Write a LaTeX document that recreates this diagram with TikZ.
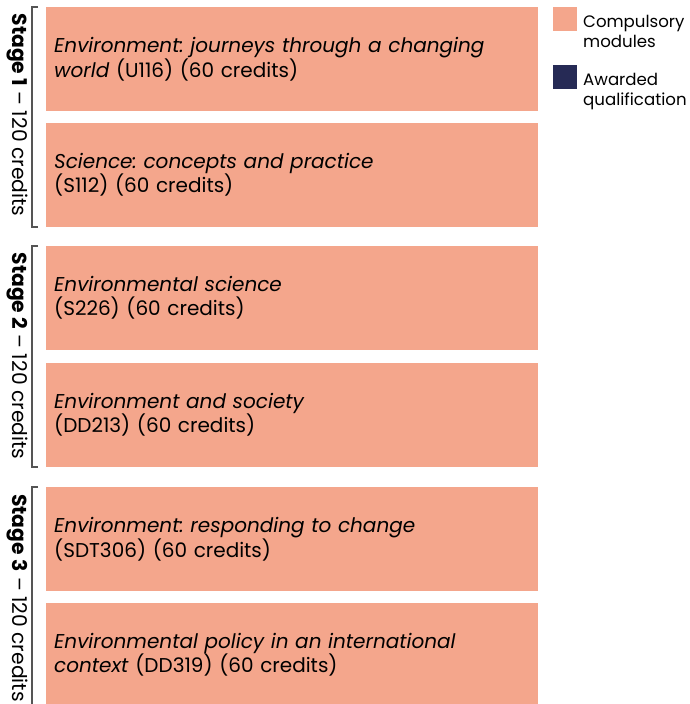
\documentclass[tikz,border=0pt]{standalone}
\usepackage{fontspec}
\setmainfont{Poppins}
\usepackage{tikz}
\usetikzlibrary{positioning}
\frenchspacing
\definecolor{salmon}{HTML}{F4A68C}
\definecolor{navy}{HTML}{262A55}
\definecolor{bracketgray}{HTML}{555555}
\tikzset{
  module/.style={fill=salmon, rectangle, anchor=north west, minimum width=492pt, minimum height=104pt,
    text width=476pt, inner xsep=8pt, inner ysep=0pt, align=left,
    font=\fontsize{20}{24}\selectfont},
  stagelabel/.style={rotate=-90, font=\fontsize{20.3}{24}\selectfont, inner sep=0pt},
  bracket/.style={draw=bracketgray, line width=1.1pt},
  legendtext/.style={anchor=north west, align=left, inner sep=0pt, font=\fontsize{16.6}{20.5}\selectfont}
}
\begin{document}
\begin{tikzpicture}[x=1pt,y=-1pt]
\useasboundingbox (0,0) rectangle (689,704);
\clip (0,0) rectangle (689,704);

% stage 1
\node[module] (s1a) at (46,7) {\textit{Environment: journeys through a changing}\\\textit{world} (U116) (60 credits)};
\node[module] (s1b) at (46,123) {\textit{Science: concepts and practice}\\(S112) (60 credits)};
\draw[bracket] (38,7) -- (32,7) -- (32,227) -- (38,227);
\node[stagelabel] (st1) at (17,115) {\textbf{Stage 1} – 120 credits};

% stage 2
\node[module] (s2a) at (46,246) {\textit{Environmental science}\\(S226) (60 credits)};
\node[module] (s2b) at (46,363) {\textit{Environment and society}\\(DD213) (60 credits)};
\draw[bracket] (38,246) -- (32,246) -- (32,467) -- (38,467);
\node[stagelabel] (st2) at (17,356) {\textbf{Stage 2} – 120 credits};

% stage 3
\node[module] (s3a) at (46,487) {\textit{Environment: responding to change}\\(SDT306) (60 credits)};
\node[module] (s3b) at (46,603) {\textit{Environmental policy in an international}\\\textit{context} (DD319) (60 credits)};
\draw[bracket] (38,487) -- (32,487) -- (32,707) -- (38,707);
\node[stagelabel] (st3) at (17,598) {\textbf{Stage 3} – 120 credits};

% legend
\fill[salmon] (553,7) rectangle (577,31);
\node[legendtext] (lgcomp) at (583,15) {Compulsory\\modules};
\fill[navy] (553,65) rectangle (577,89);
\node[legendtext] (lgaward) at (583,73) {Awarded\\qualification};

\end{tikzpicture}
\end{document}
